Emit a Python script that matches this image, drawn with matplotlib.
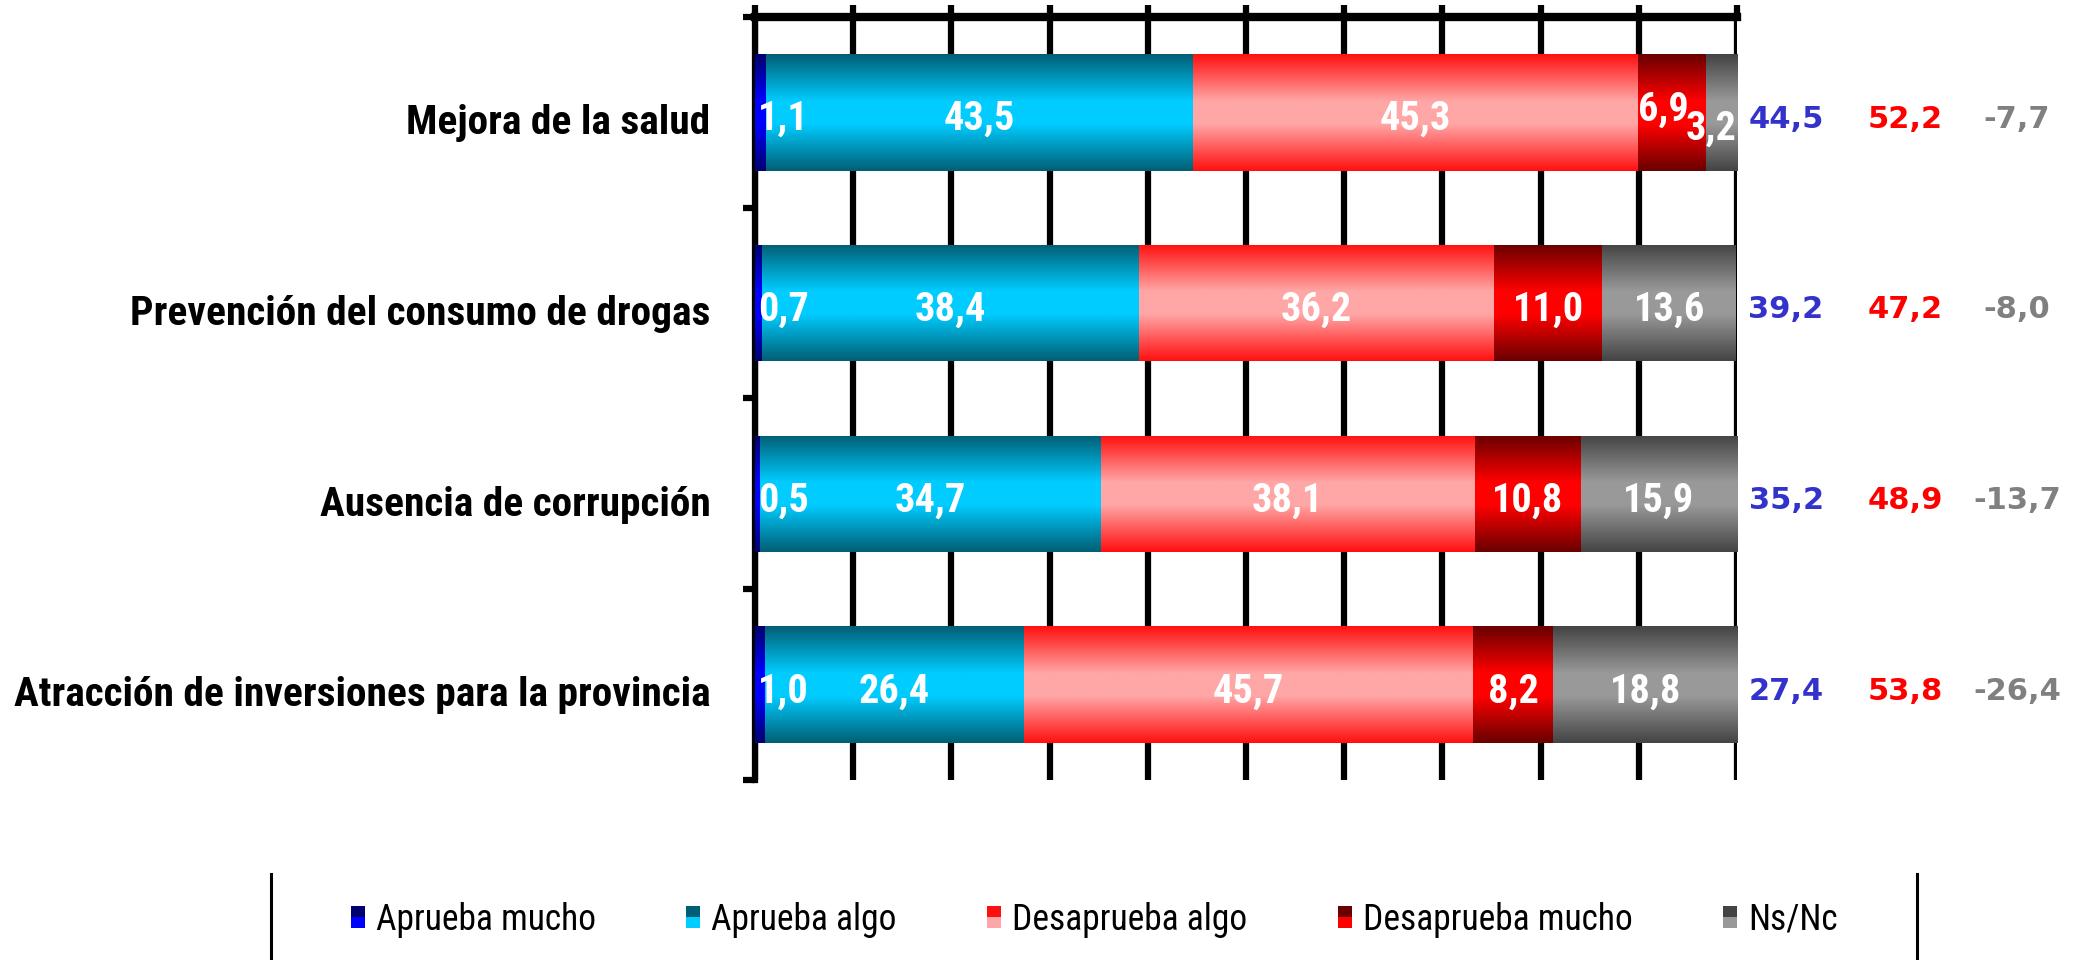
"""
Aprobación de la gestión por área — barras horizontales apiladas con degradé.
"""
import matplotlib
matplotlib.use("Agg")
import matplotlib.pyplot as plt
from matplotlib import font_manager
from matplotlib.colors import LinearSegmentedColormap
from matplotlib.legend_handler import HandlerBase
from matplotlib.patches import Rectangle
from matplotlib.lines import Line2D
import numpy as np

# ── Data ──────────────────────────────────────────────────────────────────────
categories = [
    "Mejora de la salud",
    "Prevención del consumo de drogas",
    "Ausencia de corrupción",
    "Atracción de inversiones para la provincia",
]
series_names = ["Aprueba mucho", "Aprueba algo", "Desaprueba algo",
                "Desaprueba mucho", "Ns/Nc"]

aprueba_mucho    = [1.1, 0.7, 0.5, 1.0]
aprueba_algo     = [43.5, 38.4, 34.7, 26.4]
desaprueba_algo  = [45.3, 36.2, 38.1, 45.7]
desaprueba_mucho = [6.9, 11.0, 10.8, 8.2]
ns_nc            = [3.2, 13.6, 15.9, 18.8]

total_aprueba    = [44.5, 39.2, 35.2, 27.4]
total_desaprueba = [52.2, 47.2, 48.9, 53.8]
diferencia       = [-7.7, -8.0, -13.7, -26.4]

# ── Style ─────────────────────────────────────────────────────────────────────
SHADES = [                       # (edge, centre) of each vertical gradient
    ("#00006e", "#0000ff"),
    ("#005f75", "#00ccff"),
    ("#ff1010", "#ffa6a6"),
    ("#6a0000", "#ff0000"),
    ("#444444", "#999999"),
]
TOTAL_COLORS = ["#3333cc", "#ff0000", "#808080"]
TOTAL_X      = [105.0, 117.1, 128.5]   # column centres, in % of the axis
TEXT_DY      = 0.035                   # labels sit a touch below bar centre
NUDGE        = {(0, 3): (-0.8, -0.05), (0, 4): (None, 0.05)}  # crowded labels

# a narrow grotesque (Arial Narrow look) if one is installed
weights = {}
for f in font_manager.fontManager.ttflist:
    try:
        w = int(f.weight)
    except (TypeError, ValueError):
        w = 700 if "bold" in str(f.weight).lower() else 400
    weights.setdefault(f.name, set()).add(w)

NARROW = "Liberation Sans"
for cand in ["Liberation Sans Narrow", "Arial Narrow", "Roboto Condensed",
             "PT Sans Narrow", "IBM Plex Sans Condensed"]:
    if cand in weights and max(weights[cand]) >= 700:
        NARROW = cand
        break


def fmt(v):
    return f"{v:.1f}".replace(".", ",")


class GradientHandle(HandlerBase):
    """Small two-tone legend key (dark top, light bottom)."""

    def __init__(self, edge, centre):
        super().__init__()
        self.edge, self.centre = edge, centre

    def create_artists(self, legend, orig_handle, xdescent, ydescent,
                       width, height, fontsize, trans):
        top = Rectangle((-xdescent, -ydescent + height / 2), width, height / 2,
                        facecolor=self.edge, edgecolor="none", transform=trans)
        bot = Rectangle((-xdescent, -ydescent), width, height / 2,
                        facecolor=self.centre, edgecolor="none", transform=trans)
        return [top, bot]


fig = plt.figure(figsize=(20.92, 9.6), dpi=100)
ax = fig.add_axes([0.3609, 0.1875, 0.4694, 0.7948])

series = [aprueba_mucho, aprueba_algo, desaprueba_algo, desaprueba_mucho, ns_nc]
y = np.arange(len(categories))
left = np.zeros(len(categories))
grad = np.linspace(0, 1, 128).reshape(-1, 1)

for k, (values, (edge, centre)) in enumerate(zip(series, SHADES)):
    values = np.asarray(values)
    cmap = LinearSegmentedColormap.from_list(
        f"s{k}", [(0, edge), (0.4, centre), (0.6, centre), (1, edge)])
    bars = ax.barh(y, values, left=left, height=0.61, color=centre,
                   linewidth=0, zorder=3)
    for i, (rect, v) in enumerate(zip(bars, values)):
        x0, y0 = rect.get_x(), rect.get_y()
        w, h = rect.get_width(), rect.get_height()
        im = ax.imshow(grad, cmap=cmap, aspect="auto", interpolation="bilinear",
                       extent=(x0, x0 + w, y0 + h, y0), zorder=4)
        im.set_clip_path(rect)

        ty = y0 + h / 2 + TEXT_DY
        if k == 0:
            tx, ha = x0 + 0.3, "left"
        else:
            tx, ha = x0 + w / 2, "center"
        if (i, k) in NUDGE:
            dx, dy = NUDGE[(i, k)]
            if dx is None:
                tx, ha = x0 + w, "right"
            else:
                tx += dx
            ty += dy
        ax.text(tx, ty, fmt(v), ha=ha, va="center", color="white",
                fontsize=29, fontweight="bold", family=NARROW, zorder=6,
                clip_on=False)
    left += values

# totals on the right
for col, (vals, color) in enumerate(zip([total_aprueba, total_desaprueba, diferencia],
                                        TOTAL_COLORS)):
    for yi, v in zip(y, vals):
        ax.text(TOTAL_X[col], yi + TEXT_DY, fmt(v), ha="center", va="center",
                color=color, fontsize=22, fontweight="bold",
                family="DejaVu Sans", clip_on=False)

# ── Axes ──────────────────────────────────────────────────────────────────────
ax.set_xlim(0, 100)
ax.set_ylim(len(categories) - 0.5, -0.5)
ax.xaxis.tick_top()
ax.set_xticks(np.arange(0, 101, 10))
ax.tick_params(axis="x", length=9, width=4.5, direction="out",
               labeltop=False, labelbottom=False)
ax.grid(axis="x", color="black", linewidth=4.5)
ax.set_axisbelow(True)

ax.set_yticks(np.arange(-0.5, len(categories), 1.0))
ax.set_yticks(y + TEXT_DY, minor=True)
ax.set_yticklabels([])
ax.set_yticklabels(categories, minor=True, fontsize=29.8, fontweight="bold",
                   family=NARROW)
ax.tick_params(axis="y", which="major", length=9, width=4.5, direction="out")
ax.tick_params(axis="y", which="minor", length=0, pad=32)

ax.spines["top"].set_linewidth(6)
ax.spines["left"].set_linewidth(4.5)
ax.spines["right"].set_visible(False)
ax.spines["bottom"].set_visible(False)

# ── Legend ────────────────────────────────────────────────────────────────────
handles = [Rectangle((0, 0), 1, 1) for _ in series_names]
handler_map = {h: GradientHandle(e, c) for h, (e, c) in zip(handles, SHADES)}
fig.legend(handles, series_names, handler_map=handler_map, loc="center",
           bbox_to_anchor=(0.523, 0.042), ncol=5, frameon=False,
           prop=dict(family=NARROW, size=25.6), handlelength=0.4,
           handleheight=0.6, handletextpad=0.3, columnspacing=2.55)

for xf in (271 / 2092, 1917 / 2092):
    fig.add_artist(Line2D([xf, xf], [0, 1 - 874 / 960], color="black",
                          linewidth=2.2, transform=fig.transFigure))

fig.savefig("out.png", dpi=100, facecolor="white")
